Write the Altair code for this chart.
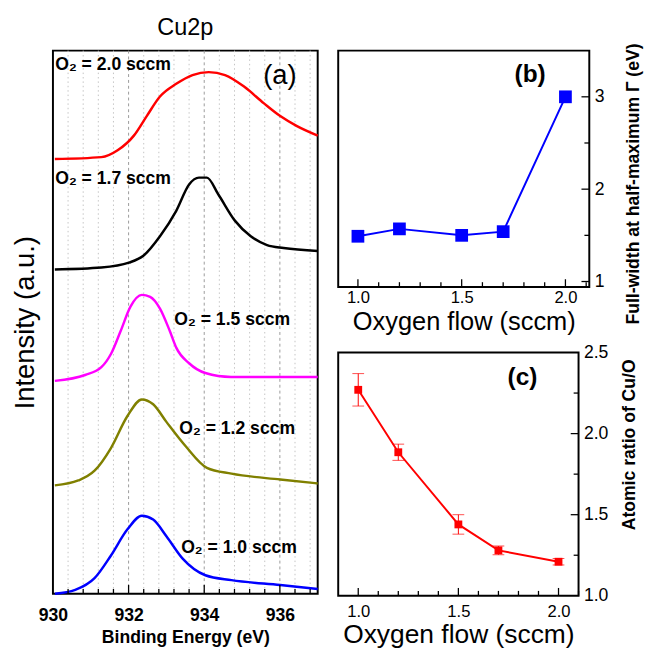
import altair as alt
import pandas as pd

FONT = "Liberation Sans"

# ---------------- data ----------------
# (a) Cu2p spectra, binding energy (eV) vs intensity (a.u., stacked offsets)
series_names = ["2.0", "1.7", "1.5", "1.2", "1.0"]
series_colors = ["#ff0000", "#000000", "#ff00ff", "#808000", "#0000ff"]

energy_20 = [930.05, 931.28, 931.71, 932.14, 932.48, 932.83, 933.26, 933.69, 934.12, 934.55, 935.06, 935.58, 936.01, 936.44, 937.0]
inten_20 = [4.45, 4.47, 4.54, 4.69, 4.89, 5.09, 5.22, 5.31, 5.34, 5.31, 5.19, 5.02, 4.89, 4.79, 4.69]

energy_17 = [930.05, 931.28, 932.01, 932.39, 932.83, 933.26, 933.60, 933.86, 934.07, 934.37, 934.81, 935.23, 935.66, 936.10, 937.0]
inten_17 = [3.32, 3.34, 3.39, 3.46, 3.66, 3.92, 4.19, 4.26, 4.26, 4.09, 3.82, 3.66, 3.57, 3.54, 3.51]

energy_15 = [930.05, 930.85, 931.28, 931.54, 931.79, 932.05, 932.35, 932.57, 932.83, 933.09, 933.26, 933.60, 934.03, 934.71, 937.0]
inten_15 = [2.18, 2.24, 2.32, 2.46, 2.69, 2.94, 3.06, 3.04, 2.92, 2.69, 2.52, 2.36, 2.26, 2.22, 2.22]

energy_12 = [930.05, 930.67, 931.10, 931.53, 931.97, 932.35, 932.65, 933.0, 933.51, 934.07, 934.72, 936.01, 937.0]
inten_12 = [1.11, 1.16, 1.26, 1.49, 1.82, 1.99, 1.94, 1.76, 1.51, 1.29, 1.23, 1.17, 1.13]

energy_10 = [930.05, 930.59, 931.10, 931.53, 931.97, 932.35, 932.65, 933.0, 933.43, 934.03, 934.72, 936.01, 937.0]
inten_10 = [0.0, 0.04, 0.16, 0.39, 0.66, 0.80, 0.76, 0.59, 0.36, 0.19, 0.14, 0.09, 0.05]

a_labels = ["O₂ = 2.0 sccm", "O₂ = 1.7 sccm", "O₂ = 1.5 sccm", "O₂ = 1.2 sccm", "O₂ = 1.0 sccm"]
a_label_e = [930.06, 930.06, 933.21, 933.34, 933.39]
a_label_i = [5.41, 4.25, 2.80, 1.69, 0.47]

a_tick_labels = [930, 932, 934, 936]
a_minor = [930.4, 930.8, 931.2, 931.6, 932.4, 932.8, 933.2, 933.6, 934.4, 934.8, 935.2, 935.6, 936.4, 936.8]
a_major = [932, 934, 936]

# (b) FWHM vs oxygen flow
flow = [1.0, 1.2, 1.5, 1.7, 2.0]
fwhm = [1.49, 1.57, 1.50, 1.54, 3.0]

# (c) Cu/O ratio vs oxygen flow
cu_o = [2.27, 1.885, 1.44, 1.28, 1.21]
cu_o_err = [0.10, 0.05, 0.06, 0.027, 0.02]

flow_labels = [1.0, 1.5, 2.0]
flow_minor = [1.1, 1.2, 1.3, 1.4, 1.6, 1.7, 1.8, 1.9, 2.1]
b_y_labels = [1, 2, 3]
b_y_minor = [1.5, 2.5]
c_y_labels = [1.0, 1.5, 2.0, 2.5]
c_y_minor = [1.25, 1.75, 2.25]
c_y_major = [1.5, 2.0]

# ---------------- sizes ----------------
W_A, H_A = 271, 556
W_B, H_B = 257, 242
W_C, H_C = 246, 249


def xticks(vals, scale, axis, h, length):
    return alt.Chart(pd.DataFrame({"v": vals})).mark_rule(color="black", strokeWidth=1.3).encode(
        x=alt.X("v:Q", scale=scale, axis=axis),
        y=alt.value(h), y2=alt.value(h - length))


def yticks_right(vals, scale, axis, w, length):
    return alt.Chart(pd.DataFrame({"v": vals})).mark_rule(color="black", strokeWidth=1.3).encode(
        y=alt.Y("v:Q", scale=scale, axis=axis),
        x=alt.value(w), x2=alt.value(w - length))


# ---------------- panel (a) ----------------
rows = []
for name, es, vs in zip(series_names,
                        [energy_20, energy_17, energy_15, energy_12, energy_10],
                        [inten_20, inten_17, inten_15, inten_12, inten_10]):
    for e, v in zip(es, vs):
        rows.append({"series": name, "energy": e, "intensity": v})
spec_df = pd.DataFrame(rows)

xa = alt.Scale(domain=[930, 937], nice=False, zero=False)
ya = alt.Scale(domain=[0, 5.56], nice=False, zero=False)
ax_a_x = alt.Axis(values=a_tick_labels, format="d", title="Binding Energy (eV)",
                  labelFontSize=18, labelFontWeight="bold", labelPadding=13, labelFlush=False,
                  titleFontSize=18, titleFontWeight="bold", titlePadding=5,
                  ticks=False, domain=False, grid=False)
ax_a_y = alt.Axis(title="Intensity (a.u.)", labels=False, ticks=False, domain=False, grid=False,
                  titleFontSize=28, titleFontWeight="normal", titlePadding=14)

grid_minor = alt.Chart(pd.DataFrame({"v": a_minor})).mark_rule(
    color="#c4c4c4", strokeDash=[1.5, 3], strokeWidth=1).encode(x=alt.X("v:Q", scale=xa, axis=ax_a_x))
grid_major = alt.Chart(pd.DataFrame({"v": a_major})).mark_rule(
    color="#9a9a9a", strokeDash=[3, 3], strokeWidth=1).encode(x=alt.X("v:Q", scale=xa, axis=ax_a_x))

lines_a = alt.Chart(spec_df).mark_line(strokeWidth=2.5, interpolate="monotone").encode(
    x=alt.X("energy:Q", scale=xa, axis=ax_a_x),
    y=alt.Y("intensity:Q", scale=ya, axis=ax_a_y),
    color=alt.Color("series:N", scale=alt.Scale(domain=series_names, range=series_colors), legend=None),
    order=alt.Order("energy:Q"),
)

labels_a = alt.Chart(pd.DataFrame({"t": a_labels, "e": a_label_e, "i": a_label_i})).mark_text(
    align="left", baseline="middle", fontSize=18, fontWeight="bold", font=FONT, color="black").encode(
    x=alt.X("e:Q", scale=xa, axis=ax_a_x), y=alt.Y("i:Q", scale=ya, axis=ax_a_y), text="t:N")

tag_a = alt.Chart(pd.DataFrame({"t": ["(a)"], "e": [936.0], "i": [5.30]})).mark_text(
    align="center", baseline="middle", fontSize=28, fontWeight="normal", font=FONT, color="black").encode(
    x=alt.X("e:Q", scale=xa, axis=ax_a_x), y=alt.Y("i:Q", scale=ya, axis=ax_a_y), text="t:N")

panel_a = alt.layer(
    grid_minor, grid_major, lines_a,
    xticks(a_minor, xa, ax_a_x, H_A, 5), xticks(a_major, xa, ax_a_x, H_A, 9),
    labels_a, tag_a,
).properties(width=W_A, height=H_A,
             title=alt.TitleParams("Cu2p", fontSize=24, fontWeight="normal", font=FONT,
                                   anchor="middle", offset=10))

# ---------------- panel (b) ----------------
xb = alt.Scale(domain=[0.905, 2.115], nice=False, zero=False)
yb = alt.Scale(domain=[0.94, 3.5], nice=False, zero=False)
b_df = pd.DataFrame({"flow": flow, "fwhm": fwhm})

ax_b_x = alt.Axis(values=flow_labels, format=".1f", title="Oxygen flow (sccm)",
                  labelFontSize=17, labelPadding=3, labelFlush=False,
                  titleFontSize=26, titleFontWeight="normal", titlePadding=3,
                  ticks=False, domain=False, grid=False)
ax_b_y = alt.Axis(orient="right", values=b_y_labels, format="d",
                  title="Full-width at half-maximum Γ (eV)", titleAngle=270, titleBaseline="top",
                  titleY=136, labelFontSize=18, labelPadding=5, titleFontSize=18, titleFontWeight="bold",
                  titlePadding=21, ticks=False, domain=False, grid=False)

line_b = alt.Chart(b_df).mark_line(color="#0000ff", strokeWidth=2).encode(
    x=alt.X("flow:Q", scale=xb, axis=ax_b_x), y=alt.Y("fwhm:Q", scale=yb, axis=ax_b_y))
pts_b = alt.Chart(b_df).mark_square(color="#0000ff", size=170, opacity=1).encode(
    x=alt.X("flow:Q", scale=xb, axis=ax_b_x), y=alt.Y("fwhm:Q", scale=yb, axis=ax_b_y))
tag_b = alt.Chart(pd.DataFrame({"t": ["(b)"], "x": [1.83], "y": [3.24]})).mark_text(
    align="center", baseline="middle", fontSize=25, fontWeight="bold", font=FONT, color="black").encode(
    x=alt.X("x:Q", scale=xb, axis=ax_b_x), y=alt.Y("y:Q", scale=yb, axis=ax_b_y), text="t:N")

panel_b = alt.layer(
    line_b, pts_b,
    xticks(flow_minor, xb, ax_b_x, H_B, 5), xticks(flow_labels, xb, ax_b_x, H_B, 8),
    yticks_right(b_y_minor, yb, ax_b_y, W_B, 5), yticks_right(b_y_labels, yb, ax_b_y, W_B, 8),
    tag_b,
).properties(width=W_B, height=H_B)

# ---------------- panel (c) ----------------
xc = alt.Scale(domain=[0.9, 2.1], nice=False, zero=False)
yc = alt.Scale(domain=[1.0, 2.5], nice=False, zero=False)
c_df = pd.DataFrame({"flow": flow, "ratio": cu_o, "err": cu_o_err})

ax_c_x = alt.Axis(values=flow_labels, format=".1f", title="Oxygen flow (sccm)",
                  labelFontSize=17, labelPadding=8, labelFlush=False,
                  titleFontSize=27, titleFontWeight="normal", titlePadding=3,
                  ticks=False, domain=False, grid=False)
ax_c_y = alt.Axis(orient="right", values=c_y_labels, format=".1f",
                  title="Atomic ratio of Cu/O", titleAngle=270, titleBaseline="top", titleY=94,
                  labelFontSize=18, labelPadding=5, titleFontSize=18, titleFontWeight="bold",
                  titlePadding=13, ticks=False, domain=False, grid=False)

base_c = alt.Chart(c_df).transform_calculate(lo="datum.ratio - datum.err", hi="datum.ratio + datum.err")
line_c = base_c.mark_line(color="#ff0000", strokeWidth=2).encode(
    x=alt.X("flow:Q", scale=xc, axis=ax_c_x), y=alt.Y("ratio:Q", scale=yc, axis=ax_c_y))
err_c = base_c.mark_rule(color="#ff0000", strokeWidth=1).encode(
    x=alt.X("flow:Q", scale=xc, axis=ax_c_x), y=alt.Y("lo:Q", scale=yc, axis=ax_c_y), y2="hi:Q")
cap_lo = base_c.mark_tick(color="#ff0000", orient="horizontal", size=12, thickness=1).encode(
    x=alt.X("flow:Q", scale=xc, axis=ax_c_x), y=alt.Y("lo:Q", scale=yc, axis=ax_c_y))
cap_hi = base_c.mark_tick(color="#ff0000", orient="horizontal", size=12, thickness=1).encode(
    x=alt.X("flow:Q", scale=xc, axis=ax_c_x), y=alt.Y("hi:Q", scale=yc, axis=ax_c_y))
pts_c = base_c.mark_square(color="#ff0000", size=64, opacity=1).encode(
    x=alt.X("flow:Q", scale=xc, axis=ax_c_x), y=alt.Y("ratio:Q", scale=yc, axis=ax_c_y))
tag_c = alt.Chart(pd.DataFrame({"t": ["(c)"], "x": [1.82], "y": [2.35]})).mark_text(
    align="center", baseline="middle", fontSize=25, fontWeight="bold", font=FONT, color="black").encode(
    x=alt.X("x:Q", scale=xc, axis=ax_c_x), y=alt.Y("y:Q", scale=yc, axis=ax_c_y), text="t:N")

panel_c = alt.layer(
    line_c, err_c, cap_lo, cap_hi, pts_c,
    xticks(flow_minor, xc, ax_c_x, H_C, 5), xticks(flow_labels, xc, ax_c_x, H_C, 8),
    yticks_right(c_y_minor, yc, ax_c_y, W_C, 5), yticks_right(c_y_major, yc, ax_c_y, W_C, 8),
    tag_c,
).properties(width=W_C, height=H_C)

right = alt.vconcat(panel_b, panel_c, spacing=67, bounds="flush")
chart = alt.hconcat(panel_a, right, spacing=21, bounds="flush").properties(
    padding={"left": 3, "top": 0, "right": 0, "bottom": 0}
).configure(font=FONT).configure_view(stroke="black", strokeWidth=2).configure_axis(
    labelFont=FONT, titleFont=FONT, labelColor="black", titleColor="black")

chart.save("out.html", embed_options={"renderer": "svg", "actions": False})
